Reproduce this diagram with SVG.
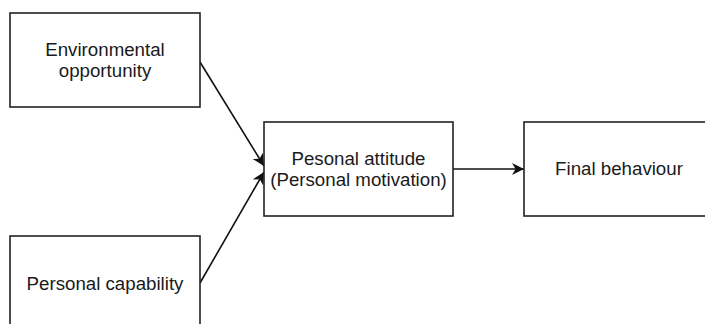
<svg xmlns="http://www.w3.org/2000/svg" width="705" height="324" viewBox="0 0 705 324">
<style>
.box{fill:#fff;stroke:#222;stroke-width:1.6}
.t{font-family:"Liberation Sans",Arial,sans-serif;font-size:18.7px;fill:#1a1a1a;text-anchor:middle}
.c{fill:none;stroke:#111;stroke-width:1.6}
</style>
<defs>
<marker id="ah" viewBox="0 0 10 10" refX="10" refY="5" markerWidth="13" markerHeight="12" markerUnits="userSpaceOnUse" orient="auto">
<path d="M0,0 L10,5 L0,10 L3,5 Z" fill="#111"/>
</marker>
</defs>
<rect width="705" height="324" fill="#fff"/>
<g id="connectors">
<path class="c" d="M200,62 L264,166" marker-end="url(#ah)"/>
<path class="c" d="M200,283 L264,172" marker-end="url(#ah)"/>
<path class="c" d="M453,169 L524,169" marker-end="url(#ah)"/>
</g>
<g id="env">
<rect class="box" x="10" y="13" width="190" height="94"/>
<text class="t" x="105" y="56">Environmental</text>
<text class="t" x="105" y="77">opportunity</text>
</g>
<g id="cap">
<rect class="box" x="10" y="236" width="190" height="94"/>
<text class="t" x="105" y="290">Personal capability</text>
</g>
<g id="att">
<rect class="box" x="264" y="122" width="189" height="94"/>
<text class="t" x="358.5" y="165">Pesonal attitude</text>
<text class="t" x="358.5" y="186">(Personal motivation)</text>
</g>
<g id="fin">
<rect class="box" x="524" y="122" width="190" height="94"/>
<text class="t" x="619" y="175">Final behaviour</text>
</g>
</svg>
